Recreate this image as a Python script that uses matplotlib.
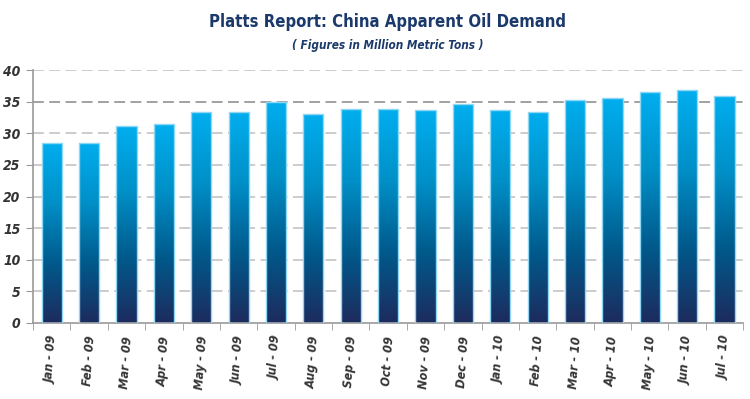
import matplotlib
matplotlib.use("Agg")
import matplotlib.pyplot as plt
import numpy as np
from matplotlib.colors import LinearSegmentedColormap

months = ["Jan - 09", "Feb - 09", "Mar - 09", "Apr - 09", "May - 09", "Jun - 09",
          "Jul - 09", "Aug - 09", "Sep - 09", "Oct - 09", "Nov - 09", "Dec - 09",
          "Jan - 10", "Feb - 10", "Mar - 10", "Apr - 10", "May - 10", "Jun - 10",
          "Jul - 10"]
demand = [28.5, 28.5, 31.2, 31.4, 33.3, 33.4, 35.0, 33.1, 33.8, 33.8, 33.6, 34.6,
          33.7, 33.4, 35.3, 35.5, 36.5, 36.8, 35.9]
yticks = [0, 5, 10, 15, 20, 25, 30, 35, 40]

FONT = ["DejaVu Sans"]
NAVY = "#1b3a6b"
cmap = LinearSegmentedColormap.from_list("bar", ["#1d2b5e", "#005a8c", "#0090c8", "#00aeef"])

fig = plt.figure(figsize=(7.5, 3.99), dpi=100)
ax = fig.add_axes([0.044, 0.1905, 0.947, 0.634])

x = np.arange(len(months))
bars = ax.bar(x, demand, width=0.54, color="none", edgecolor="#8fd8f5",
              linewidth=1.0, zorder=3)
# vertical gradient fill clipped to each bar
grad = np.linspace(0, 1, 256).reshape(-1, 1)
for b in bars:
    x0, h, w = b.get_x(), b.get_height(), b.get_width()
    im = ax.imshow(grad, cmap=cmap, aspect="auto", origin="lower",
                   extent=(x0, x0 + w, 0, h), zorder=2)
    im.set_clip_path(b)

ax.set_xlim(-0.5, len(months) - 0.5)
ax.set_ylim(0, 40)

for v in yticks[1:]:
    c = "#9a9a9a" if v == 35 else "#c8c8c8"
    ax.axhline(v, color=c, linestyle=(0, (6, 3)), linewidth=1.3, zorder=1)

for s in ["top", "right"]:
    ax.spines[s].set_visible(False)
for s in ["left", "bottom"]:
    ax.spines[s].set_color("#999999")
    ax.spines[s].set_linewidth(1.2)

tick_kw = dict(family=FONT, fontstretch="condensed", fontweight="bold",
               fontstyle="italic", color="#333333")
ax.set_yticks(yticks)
ax.set_yticklabels([str(v) for v in yticks], fontsize=10, **tick_kw)
ax.tick_params(axis="y", length=5, color="#999999", pad=4)

ax.set_xticks(x)
ax.set_xticklabels(months, rotation=86, fontsize=9, ha="center", va="top", **tick_kw)
ax.tick_params(axis="x", length=0, pad=9)
ax.set_xticks(np.arange(len(months) + 1) - 0.5, minor=True)
ax.tick_params(axis="x", which="minor", length=5, color="#999999")

fig.text(0.517, 0.945, "Platts Report: China Apparent Oil Demand", ha="center",
         va="center", family=FONT, fontstretch="condensed", fontsize=12,
         fontweight="bold", color=NAVY)
fig.text(0.517, 0.887, "( Figures in Million Metric Tons )", ha="center",
         va="center", family=FONT, fontstretch="condensed", fontsize=8.5,
         fontweight="bold", fontstyle="italic", color=NAVY)

fig.savefig("out.png", dpi=100)
